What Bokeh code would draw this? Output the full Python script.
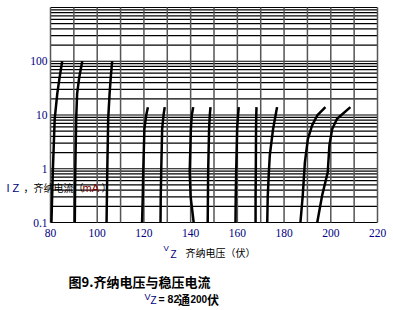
from bokeh.plotting import figure
from bokeh.models import Range1d, Label
from bokeh.embed import file_html
from bokeh.resources import INLINE

# ---- data ----
x_ticks = [80, 100, 120, 140, 160, 180, 200, 220]
x_minor = [90, 110, 130, 150, 170, 190, 210]
y_ticks = [0.1, 1, 10, 100]
y_top = 1000

v1 = [80.4, 81.0, 81.8, 82.9, 83.9, 85.0]
i1 = [0.1, 0.9, 8.5, 25, 50, 100]
v2 = [90.4, 90.6, 91.0, 91.4, 92.3, 93.6]
i2 = [0.1, 0.9, 8.5, 25, 50, 100]
v3 = [104.0, 104.3, 104.7, 105.3, 105.8, 106.4]
i3 = [0.1, 0.9, 8.5, 25, 50, 100]
v4 = [119.2, 119.5, 119.7, 120.2, 121.0, 121.7]
i4 = [0.1, 0.3, 0.9, 5.5, 10, 14]
v5 = [127.1, 127.2, 127.4, 127.8, 128.4, 128.9]
i5 = [0.1, 0.3, 0.9, 5.5, 10, 14]
v6 = [141.3, 140.0, 139.6, 140.1, 140.5, 141.1]
i6 = [0.1, 0.3, 0.9, 5.5, 10, 14]
v7 = [147.3, 147.4, 147.5, 147.9, 148.2, 148.5]
i7 = [0.1, 0.3, 0.9, 5.5, 10, 14]
v8 = [159.2, 159.3, 159.5, 159.9, 160.3, 160.6]
i8 = [0.1, 0.3, 0.9, 5.5, 10, 14]
v9 = [167.8, 167.8, 167.9, 168.0, 168.1, 168.2]
i9 = [0.1, 0.3, 0.9, 5.5, 10, 14]
v10 = [172.8, 173.0, 173.5, 173.9, 175.3, 177.0]
i10 = [0.1, 0.3, 0.9, 1.8, 5.5, 14]
v11 = [187.0, 188.0, 188.9, 190.2, 192.0, 194.2, 197.7]
i11 = [0.1, 0.32, 1.3, 3.6, 6.4, 9.8, 14]
v12 = [194.2, 196.3, 198.7, 199.4, 200.6, 202.7, 208.4]
i12 = [0.1, 0.32, 0.86, 2.7, 5.5, 8.5, 14]

curves = [(v1, i1), (v2, i2), (v3, i3), (v4, i4), (v5, i5), (v6, i6),
          (v7, i7), (v8, i8), (v9, i9), (v10, i10), (v11, i11), (v12, i12)]

W, H = 393, 310
# plot box inside the canvas (pixels): left, right, top, bottom
BL, BR, BT, BB = 50, 377, 7, 222
x0, x1 = x_ticks[0], x_ticks[-1]
y0, y1 = y_ticks[0], y_top
pxv = (BR - BL) / (x1 - x0)
dec = (BB - BT) / 4.0
xr = Range1d(x0 - BL / pxv, x1 + (W - BR) / pxv)
yr = Range1d(y0 / 10 ** ((H - BB) / dec), y1 * 10 ** (BT / dec))

p = figure(width=W, height=H, y_axis_type="log", x_range=xr, y_range=yr,
           output_backend="svg", toolbar_location=None, min_border=0)
p.xaxis.visible = False
p.yaxis.visible = False
p.xgrid.visible = False
p.ygrid.visible = False
p.outline_line_color = None
p.background_fill_color = "white"
p.border_fill_color = "white"

# grid (log decades with 2..9 minor lines, 10 V vertical steps)
y_grid = [m * 10.0 ** k for k in (-1, 0, 1, 2) for m in range(1, 10)] + [y_top]
p.segment(x0=[x0] * len(y_grid), y0=y_grid, x1=[x1] * len(y_grid), y1=y_grid,
          line_color="black", line_width=1.2)
x_grid = sorted(x_ticks + x_minor)
p.segment(x0=x_grid, y0=[y0] * len(x_grid), x1=x_grid, y1=[y1] * len(x_grid),
          line_color="#555555", line_width=1.5)

for vv, ii in curves:
    p.line(vv, ii, line_color="black", line_width=2.5)

# tick labels
p.text(x=x_ticks, y=[y0] * len(x_ticks), text=[str(t) for t in x_ticks],
       text_align="center", text_baseline="top", y_offset=6,
       text_font_size="11.5px", text_font="Liberation Sans", text_color="#000080")
p.text(x=[x0] * len(y_ticks), y=y_ticks, text=[str(t) for t in y_ticks],
       text_align="right", text_baseline="middle", x_offset=-3,
       text_font_size="11.5px", text_font="Liberation Sans", text_color="#000080")

CJK = "Noto Sans CJK SC"
LAT = "Liberation Sans"


def lab(text, cx, cy, size, color="black", font=CJK, style="normal"):
    # cx, cy: canvas pixel position (from top-left) of the text's left/middle
    p.add_layout(Label(x=cx, y=H - cy, x_units="screen", y_units="screen", text=text,
                       text_font=font, text_font_size=size, text_color=color,
                       text_font_style=style, text_align="left",
                       text_baseline="middle"))


# y-axis title (drawn across the plot)
lab("I Z", 6, 187, "11px", "#000080", LAT)
lab("，齐纳电流（", 23, 187, "10px")
lab("mA", 82, 187, "11px", "#800000", LAT)
lab("）", 101, 187, "10px")

# x-axis title
lab("V", 163, 248, "8px", "#000080", LAT)
lab("Z", 170, 254, "10px", "#000080", LAT)
lab("齐纳电压（伏）", 185, 252, "10px")

# caption
lab("图9.齐纳电压与稳压电流", 68, 281, "13px", style="bold")
lab("V", 144, 296.5, "9px", "#000080", LAT)
lab("Z", 150, 300, "10px", "#000080", LAT)
lab("= 82", 158, 298.5, "10.5px", "black", LAT, "bold")
lab("通", 177.5, 298.5, "12px", style="bold")
lab("200", 190, 298.5, "10px", "black", LAT, "bold")
lab("伏", 206.5, 298.5, "12px", style="bold")

open("out.html", "w").write(file_html(p, INLINE))
